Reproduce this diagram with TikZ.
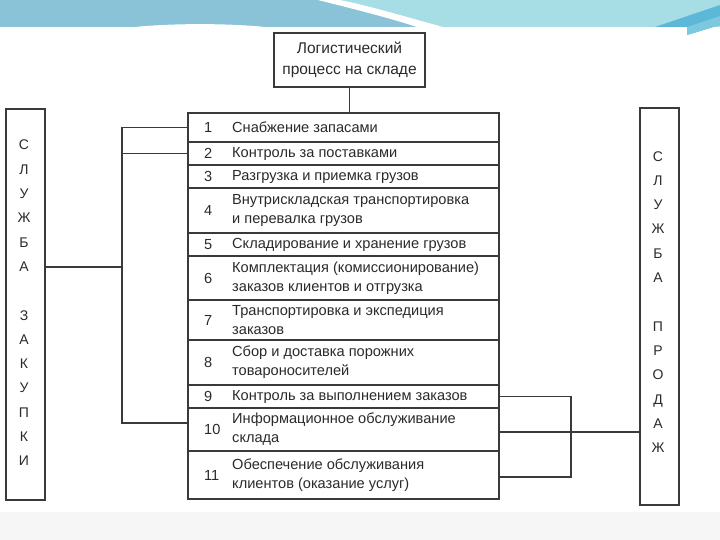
\documentclass[tikz,border=0pt]{standalone}
\usepackage{fontspec}
\setmainfont{Liberation Sans}
\usetikzlibrary{calc}
\definecolor{ink}{HTML}{3A3A3A}
\definecolor{txt}{HTML}{2A2A2A}
\definecolor{banddark}{HTML}{8AC3D7}
\definecolor{bandlight}{HTML}{A7DDE4}
\definecolor{ribbon}{HTML}{5CB8D6}
\definecolor{ribbontwo}{HTML}{7CC8DE}
\definecolor{floor}{HTML}{F6F6F6}
\tikzset{
  rowbox/.style={draw=ink, line width=1.1pt, minimum width=311pt, inner sep=0pt},
  sidebox/.style={draw=ink, line width=1.4pt, minimum width=39pt, inner sep=0pt},
  titlebox/.style={draw=ink, line width=1.4pt, minimum width=151pt, minimum height=54pt, inner sep=0pt, align=center, text=txt, font=\fontsize{15.5}{21}\selectfont},
  rowtxt/.style={anchor=west, align=left, inner sep=0pt, text=txt, font=\fontsize{14.6}{19}\selectfont},
  numtxt/.style={anchor=west, inner sep=0pt, text=txt, font=\fontsize{14.6}{19}\selectfont},
  lettxt/.style={align=center, inner sep=0pt, text=txt, font=\fontsize{14}{24.3}\selectfont},
  conn/.style={draw=ink, line width=1.2pt}
}
\begin{document}
\begin{tikzpicture}[x=1pt,y=-1pt]
\useasboundingbox (0,0) rectangle (720,540);
% banner
\fill[bandlight] (0,0) rectangle (720,27);
\fill[banddark] (0,0) -- (318,0) .. controls (350,8) and (390,18) .. (417,27) -- (0,27) -- cycle;
\fill[white] (318,0) .. controls (350,8) and (390,18) .. (417,27) -- (443,27) .. controls (410,18) and (370,6) .. (340,0) -- cycle;
\fill[white] (130,27.5) .. controls (170,23) and (230,23) .. (270,27.5) -- cycle;
\fill[ribbon] (655,27) -- (720,5) -- (720,25) -- (687,35) -- (687,27) -- cycle;
\fill[ribbontwo] (687,27) -- (720,16) -- (720,25) -- (687,35) -- cycle;
% floor
\fill[floor] (0,512) rectangle (720,540);

% title
\node[titlebox] (top) at (349.5,60) {Логистический\\процесс на складе};

% rows
\foreach \i/\c/\h/\t in {
  1/127.5/29/{Снабжение запасами},
  2/153.5/23/{Контроль за поставками},
  3/176.5/23/{Разгрузка и приемка грузов},
  4/210.5/45/{Внутрискладская транспортировка\\и перевалка грузов},
  5/244.5/23/{Складирование и хранение грузов},
  6/278/44/{Комплектация (комиссионирование)\\заказов клиентов и отгрузка},
  7/320/40/{Транспортировка и экспедиция\\заказов},
  8/362.5/45/{Сбор и доставка порожних\\товароносителей},
  9/396.5/23/{Контроль за выполнением заказов},
  10/429.5/43/{Информационное обслуживание\\склада},
  11/475/48/{Обеспечение обслуживания\\клиентов (оказание услуг)}}{
  \node[rowbox, minimum height=\h pt] (r\i) at (343.5,\c) {};
  \node[numtxt] (n\i) at (204,\c) {\i};
  \node[rowtxt] (t\i) at (232,\c) {\t};
}
\draw[ink, line width=1.5pt] (r1.north west) rectangle (r11.south east);

% side boxes
\node[sidebox, minimum height=391pt] (zak) at (25.5,304.5) {};
\node[lettxt] (zaktxt) at (24,303) {С\\Л\\У\\Ж\\Б\\А\\\mbox{}\\З\\А\\К\\У\\П\\К\\И};
\node[sidebox, minimum height=397pt] (prod) at (659.5,306.5) {};
\node[lettxt] (prodtxt) at (658,302) {С\\Л\\У\\Ж\\Б\\А\\\mbox{}\\П\\Р\\О\\Д\\А\\Ж};

% connector anchors
\coordinate (lbus) at (122,127.5);
\coordinate (r10l) at ([yshift=6.5pt]r10.west);
\coordinate (zakr) at ([yshift=37.5pt]zak.east);
\coordinate (rbus) at (571,396.5);
\coordinate (r11r) at ([yshift=-2pt]r11.east);
\coordinate (r10r) at ([yshift=-2.5pt]r10.east);

% connectors
\draw[conn] (top.south) -- (top.south |- r1.north);
\draw[conn] (r1.west) -- (lbus) -- (lbus |- r10l) -- (r10l);
\draw[conn] (r2.west) -- (r2.west -| lbus);
\draw[conn] (zakr) -- (zakr -| lbus);
\draw[conn] (r9.east) -- (rbus) -- (rbus |- r11r) -- (r11r);
\draw[conn] (r10r) -- (r10r -| prod.west);
\end{tikzpicture}
\end{document}
